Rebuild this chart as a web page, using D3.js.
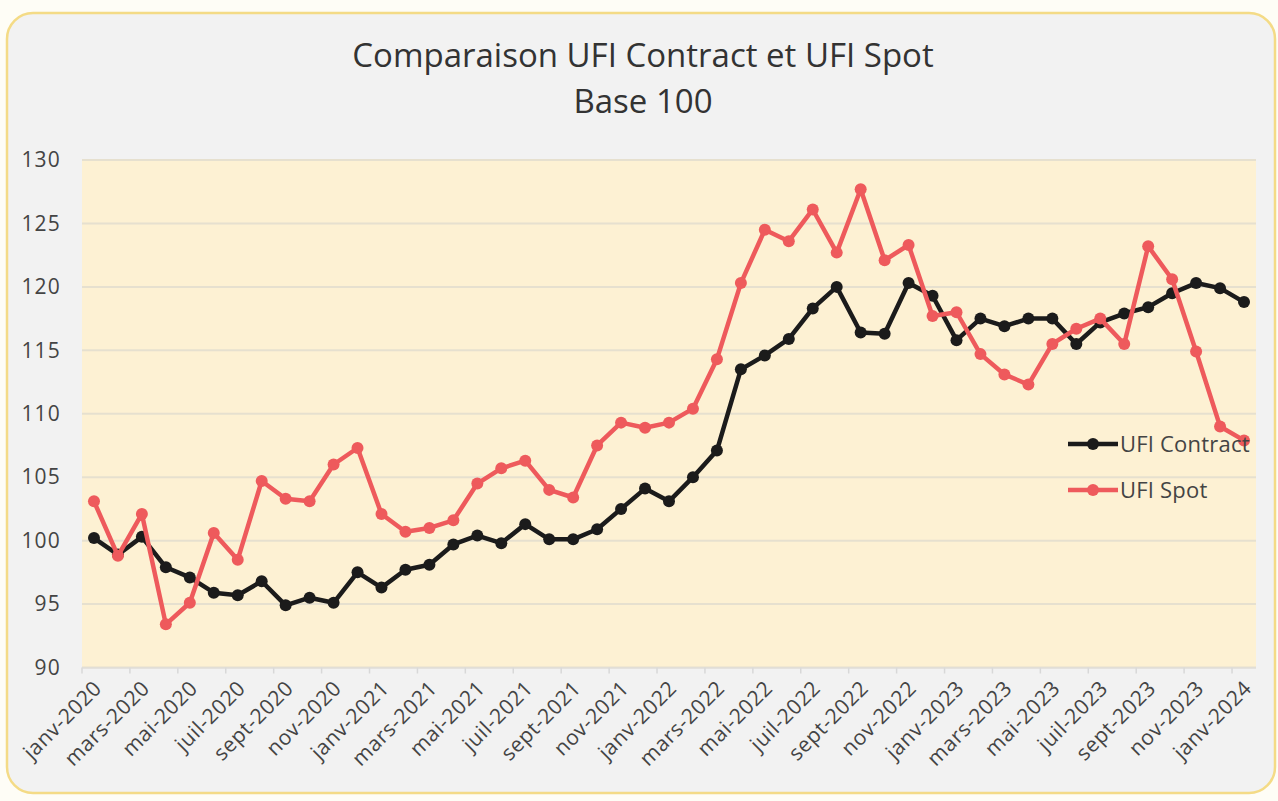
<!DOCTYPE html>
<html>
<head>
<meta charset="utf-8">
<script src="https://cdn.jsdelivr.net/npm/d3@7"></script>
<style>
  body { margin: 0; background: #fefdf6; }
  svg { display: block; font-family: "Open Sans", sans-serif; }
</style>
</head>
<body>
<div class="vis"></div>
<script>
// monthly categories, janv-2020 .. janv-2024
const monthNames = ["janv", "févr", "mars", "avr", "mai", "juin", "juil", "août", "sept", "oct", "nov", "déc"];
const years = [2020, 2021, 2022, 2023, 2024];
const months = [];
years.forEach(y => monthNames.forEach((m, i) => {
    if (y < 2024 || i === 0) months.push(m + "-" + y);
}));

const ufiContract = [100.2, 98.9, 100.3, 97.9, 97.1, 95.9, 95.7, 96.8, 94.9, 95.5, 95.1, 97.5,
    96.3, 97.7, 98.1, 99.7, 100.4, 99.8, 101.3, 100.1, 100.1, 100.9, 102.5, 104.1,
    103.1, 105.0, 107.1, 113.5, 114.6, 115.9, 118.3, 120.0, 116.4, 116.3, 120.3, 119.3,
    115.8, 117.5, 116.9, 117.5, 117.5, 115.5, 117.2, 117.9, 118.4, 119.5, 120.3, 119.9,
    118.8];
const ufiSpot = [103.1, 98.8, 102.1, 93.4, 95.1, 100.6, 98.5, 104.7, 103.3, 103.1, 106.0, 107.3,
    102.1, 100.7, 101.0, 101.6, 104.5, 105.7, 106.3, 104.0, 103.4, 107.5, 109.3, 108.9,
    109.3, 110.4, 114.3, 120.3, 124.5, 123.6, 126.1, 122.7, 127.7, 122.1, 123.3, 117.7,
    118.0, 114.7, 113.1, 112.3, 115.5, 116.7, 117.5, 115.5, 123.2, 120.6, 114.9, 109.0,
    107.9];
const yTicks = [90, 95, 100, 105, 110, 115, 120, 125, 130];

const series = [
    {name: "UFI Contract", values: ufiContract, color: "#1b1b1b"},
    {name: "UFI Spot", values: ufiSpot, color: "#ee5a5c"}
];

function init(){
    createChart(".vis");
}

function createChart(id){
    const W = 1278, H = 801;
    const plot = {left: 82, right: 1256, top: 160, bottom: 667.5};

    const svg = d3.select(id)
        .append("svg")
        .attr("width", W)
        .attr("height", H);

    // card
    svg.append("rect")
        .attr("x", 7).attr("y", 13)
        .attr("width", 1268).attr("height", 780)
        .attr("rx", 26)
        .attr("fill", "#f2f2f2")
        .attr("stroke", "#f4db86")
        .attr("stroke-width", 2.5);

    // titles
    svg.append("text")
        .attr("x", 643).attr("y", 67)
        .attr("text-anchor", "middle")
        .attr("font-size", 33)
        .attr("fill", "#333")
        .text("Comparaison UFI Contract et UFI Spot");
    svg.append("text")
        .attr("x", 643).attr("y", 113)
        .attr("text-anchor", "middle")
        .attr("font-size", 33)
        .attr("fill", "#333")
        .text("Base 100");

    const x = d3.scaleBand()
        .domain(months)
        .range([plot.left, plot.right]);
    const y = d3.scaleLinear()
        .domain([90, 130])
        .range([plot.bottom, plot.top]);
    const cx = d => x(d) + x.bandwidth() / 2;

    // plot background
    svg.append("rect")
        .attr("x", plot.left).attr("y", plot.top)
        .attr("width", plot.right - plot.left)
        .attr("height", plot.bottom - plot.top)
        .attr("fill", "#fdf1d3");

    // horizontal grid
    svg.append("g")
        .selectAll("line")
        .data(yTicks)
        .join("line")
        .attr("x1", plot.left).attr("x2", plot.right)
        .attr("y1", d => y(d)).attr("y2", d => y(d))
        .attr("stroke", "#e6e0cf")
        .attr("stroke-width", 2);

    // y axis labels
    const yAxis = svg.append("g")
        .attr("transform", `translate(${plot.left - 21},0)`)
        .call(d3.axisLeft(y).tickValues(yTicks).tickSize(0).tickPadding(0));
    yAxis.select(".domain").remove();
    yAxis.selectAll("text")
        .attr("font-family", "Open Sans, sans-serif")
        .attr("font-size", 21)
        .attr("letter-spacing", 1.2)
        .attr("fill", "#444");

    // x axis: ticks every 2 months at category edges
    const edgeMonths = months.filter((d, i) => i % 2 === 0);
    svg.append("g")
        .selectAll("line")
        .data(edgeMonths)
        .join("line")
        .attr("x1", d => x(d)).attr("x2", d => x(d))
        .attr("y1", plot.bottom).attr("y2", plot.bottom + 6)
        .attr("stroke", "#d8d8d8")
        .attr("stroke-width", 1.5);
    svg.append("line")
        .attr("x1", plot.left).attr("x2", plot.right)
        .attr("y1", plot.bottom + 0.5).attr("y2", plot.bottom + 0.5)
        .attr("stroke", "#dcdcdc");

    svg.append("g")
        .selectAll("text")
        .data(edgeMonths)
        .join("text")
        .attr("transform", d => `translate(${cx(d) + 9},${plot.bottom + 22}) rotate(-45)`)
        .attr("text-anchor", "end")
        .attr("font-size", 21)
        .attr("letter-spacing", 0.6)
        .attr("fill", "#444")
        .text(d => d);

    // lines and markers
    const line = d3.line()
        .x((d, i) => cx(months[i]))
        .y(d => y(d));

    const g = svg.append("g");
    series.forEach(s => {
        g.append("path")
            .datum(s.values)
            .attr("d", line)
            .attr("fill", "none")
            .attr("stroke", s.color)
            .attr("stroke-width", 4.5)
            .attr("stroke-linejoin", "round");
        g.append("g")
            .selectAll("circle")
            .data(s.values)
            .join("circle")
            .attr("cx", (d, i) => cx(months[i]))
            .attr("cy", d => y(d))
            .attr("r", 6)
            .attr("fill", s.color);
    });

    // legend
    const legend = svg.append("g")
        .selectAll("g")
        .data(series)
        .join("g")
        .attr("transform", (d, i) => `translate(1068,${444 + i * 46})`);
    legend.append("line")
        .attr("x1", 0).attr("x2", 50)
        .attr("stroke", d => d.color)
        .attr("stroke-width", 4.5);
    legend.append("circle")
        .attr("cx", 25).attr("r", 6)
        .attr("fill", d => d.color);
    legend.append("text")
        .attr("x", 52).attr("y", 8)
        .attr("font-size", 22)
        .attr("letter-spacing", 0.2)
        .attr("fill", "#444")
        .text(d => d.name);
}

init();
</script>
</body>
</html>
